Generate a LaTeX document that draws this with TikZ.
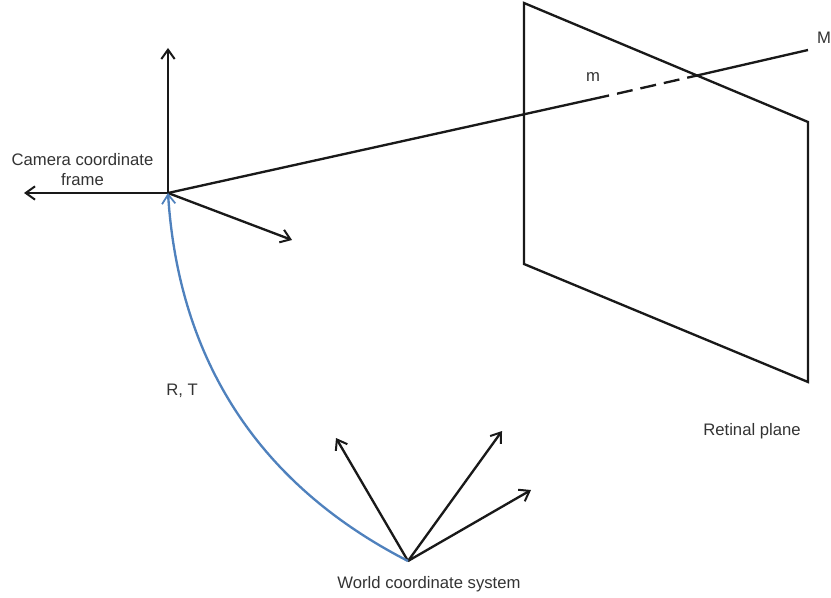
\documentclass[tikz,border=0pt]{standalone}
\usepackage{fontspec}
\setmainfont{Liberation Sans}
\usetikzlibrary{arrows.meta}
\tikzset{
  ink/.style={draw=black!90,line width=1.75pt},
  axis/.style={ink,-{Straight Barb[length=7pt,width=10pt,line width=1.5pt]}},
  lbl/.style={inner sep=0pt,align=center,text=black!80,font=\fontsize{12.5}{15}\selectfont},
}
\begin{document}
\begin{tikzpicture}[x=0.75pt,y=-0.75pt]
\useasboundingbox (0,0) rectangle (831,598);
\coordinate (C) at (168,193);
\coordinate (Cup) at (168,48);
\coordinate (Cleft) at (24,193);
\coordinate (Cright) at (292,240);
\coordinate (W) at (408,561);
\coordinate (W1) at (336,438);
\coordinate (W2) at (502,431);
\coordinate (W3) at (531,490);
\coordinate (P1) at (524,3);
\coordinate (P2) at (808,122);
\coordinate (P3) at (808,382);
\coordinate (P4) at (524,264);
\coordinate (Ra) at (609,95.5);
\coordinate (Rb) at (697,75.5);
\coordinate (Me) at (808,50);
\draw[ink,line join=miter] (P1) -- (P2) -- (P3) -- (P4) -- cycle;
\draw[ink] (C) -- (Ra);
\draw[ink,dash pattern=on 12pt off 6pt] (Ra) ++(8,-1.8) -- (Rb);
\draw[ink] (Rb) -- (Me);
\draw[axis] (C) -- (Cup);
\draw[axis] (C) -- (Cleft);
\draw[axis] (C) -- (Cright);
\draw[axis] (W) -- (W1);
\draw[axis] (W) -- (W2);
\draw[axis] (W) -- (W3);
\draw[draw={rgb,255:red,79;green,129;blue,189},line width=1.75pt,-{Straight Barb[length=7pt,width=10pt,line width=1.3pt]}]
  (W) .. controls (250,480) and (178,350) .. (C);
\node[lbl] (cam) at (82.5,170) {Camera coordinate\\frame};
\node[lbl] (world) at (429,584) {World coordinate system};
\node[lbl] (ret) at (752,431) {Retinal plane};
\node[lbl] (rt) at (182,391) {R, T};
\node[lbl] (m) at (593,77) {m};
\node[lbl] (M) at (824,38) {M};
\end{tikzpicture}
\end{document}
